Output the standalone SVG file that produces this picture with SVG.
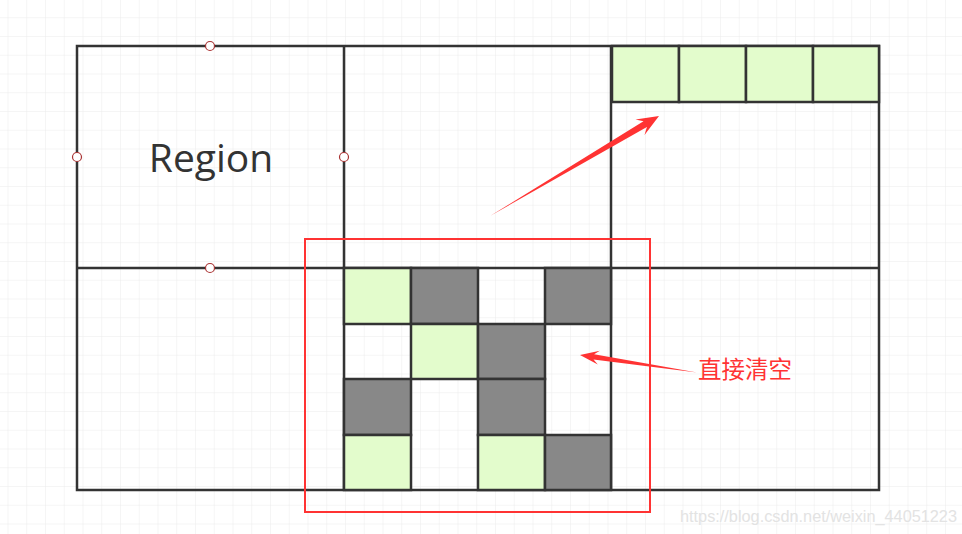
<svg xmlns="http://www.w3.org/2000/svg" width="962" height="534" viewBox="0 0 962 534">
  <defs>
    <pattern id="grid" x="7.5" y="-1.5" width="18.75" height="18.75" patternUnits="userSpaceOnUse">
      <path d="M0 0H18.75M0 0V18.75" fill="none" stroke="#ececec" stroke-width="1"/>
    </pattern>
    <style>
      .ln{stroke:#333;stroke-width:2.5;fill:none}
      .cell{stroke:#333;stroke-width:2.5}
      .g{fill:#e3fccc}
      .d{fill:#888}
      .h{fill:#fff;stroke:#a33;stroke-width:1.2}
      .red{fill:#f33}
    </style>
  </defs>
  <rect width="962" height="534" fill="#fff"/>
  <rect width="962" height="534" fill="url(#grid)"/>
  <g id="frame">
    <rect x="77" y="46" width="802" height="444" fill="#fff" class="ln"/>
    <line class="ln" x1="344" y1="46" x2="344" y2="490"/>
    <line class="ln" x1="611" y1="46" x2="611" y2="490"/>
    <line class="ln" x1="77" y1="268" x2="879" y2="268"/>
  </g>
  <g id="region">
    <text x="211" y="172" font-family="'Open Sans','Noto Sans',sans-serif" font-size="39" fill="#333" text-anchor="middle">Region</text>
    <circle class="h" cx="210" cy="46" r="4.5"/>
    <circle class="h" cx="77" cy="157" r="4.5"/>
    <circle class="h" cx="344" cy="157" r="4.5"/>
    <circle class="h" cx="210" cy="268" r="4.5"/>
  </g>
  <g id="top-cells">
    <rect class="cell g" x="612" y="46" width="67" height="56"/>
    <rect class="cell g" x="679" y="46" width="67" height="56"/>
    <rect class="cell g" x="746" y="46" width="67" height="56"/>
    <rect class="cell g" x="813" y="46" width="66" height="56"/>
  </g>
  <g id="block-grid">
    <rect class="cell g" x="344" y="268" width="67" height="56"/>
    <rect class="cell d" x="411" y="268" width="67" height="56"/>
    <rect class="cell d" x="545" y="268" width="66" height="56"/>
    <rect class="cell g" x="411" y="324" width="67" height="55"/>
    <rect class="cell d" x="478" y="324" width="67" height="55"/>
    <rect class="cell d" x="344" y="379" width="67" height="56"/>
    <rect class="cell d" x="478" y="379" width="67" height="56"/>
    <rect class="cell g" x="344" y="435" width="67" height="55"/>
    <rect class="cell g" x="478" y="435" width="67" height="55"/>
    <rect class="cell d" x="545" y="435" width="66" height="55"/>
  </g>
  <g id="highlight">
    <rect x="305" y="239" width="345" height="273" fill="none" stroke="#f33" stroke-width="2"/>
  </g>
  <g id="connectors">
    <polygon class="red" points="490,216 646.9,127.1 644.5,134.9 659,116 635.5,119.6 643.5,121.3"/>
    <polygon class="red" points="697,372.5 594.1,354.2 599.8,350.7 580,355 597.8,364.5 593.5,359.4"/>
  </g>
  <g id="label">
    <text x="698" y="378" font-family="'Noto Sans CJK SC',sans-serif" font-size="23.5" fill="#f33">直接清空</text>
  </g>
  <text x="680" y="522" font-family="'Liberation Sans',Arial,sans-serif" font-size="16.3" fill="#e3e3e3">https://blog.csdn.net/weixin_44051223</text>
</svg>
